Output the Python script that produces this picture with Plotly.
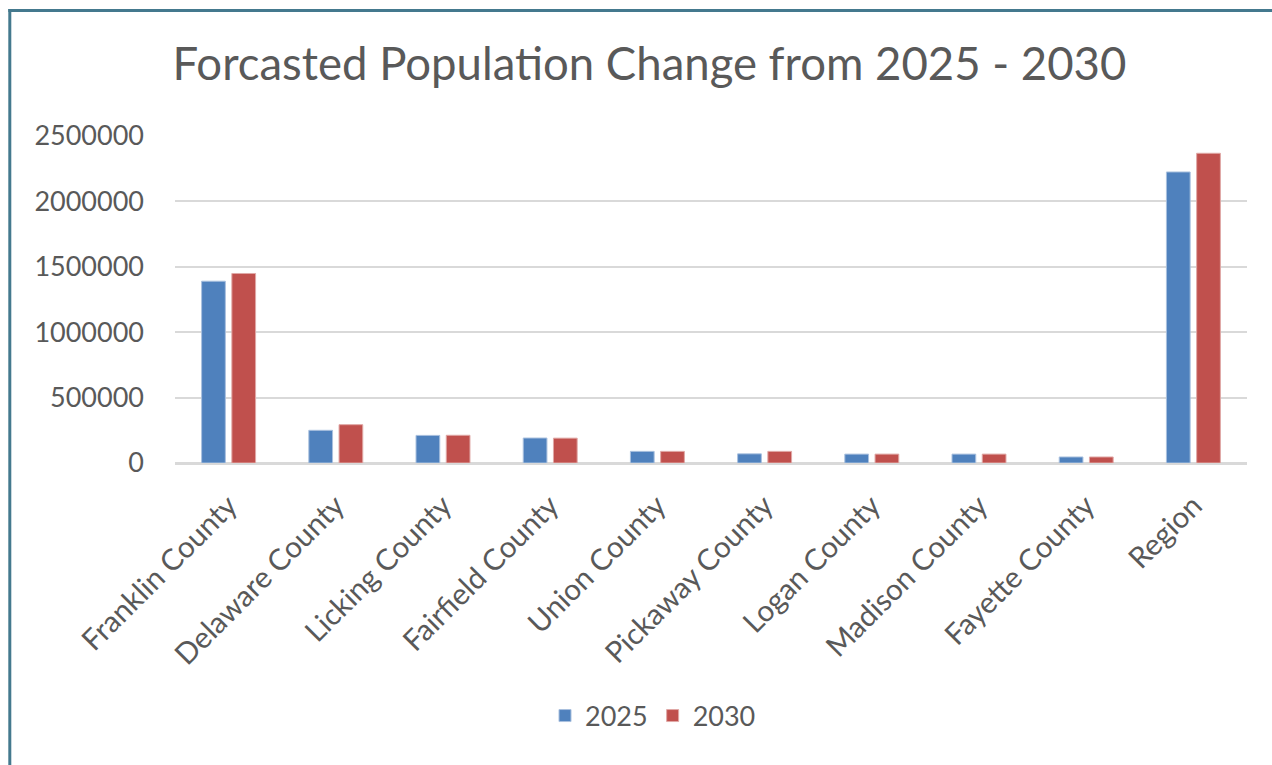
import plotly.graph_objects as go

categories = [
    "Franklin County", "Delaware County", "Licking County", "Fairfield County",
    "Union County", "Pickaway County", "Logan County", "Madison County",
    "Fayette County", "Region",
]
pop_2025 = [1390000, 250000, 211000, 191000, 89000, 70000, 68000, 68000, 46000, 2225000]
pop_2030 = [1449000, 293000, 212000, 190000, 89000, 89000, 68000, 68000, 46000, 2368000]
y_ticks = [0, 500000, 1000000, 1500000, 2000000, 2500000]

W, H = 1272, 765
ML, MR, MT, MB = 175, 25, 136, 302
FONT = "Lato"
TEXT = "#595959"

fig = go.Figure()
fig.add_trace(go.Bar(name="2025", x=categories, y=pop_2025,
                     marker=dict(color="#4F81BD", line=dict(color="#a9c0de", width=1))))
fig.add_trace(go.Bar(name="2030", x=categories, y=pop_2030,
                     marker=dict(color="#C0504D", line=dict(color="#e0a8a6", width=1))))

# frame lines along the left and top edges of the chart area
pw, ph = W - ML - MR, H - MT - MB
def px_x(p):
    return (p - ML) / pw
def px_y(p):
    return (H - MB - p) / ph

border = "#44798e"
fig.add_shape(type="line", xref="paper", yref="paper",
              x0=px_x(9.8), x1=px_x(9.8), y0=px_y(9), y1=px_y(H + 5),
              line=dict(color=border, width=3))
fig.add_shape(type="line", xref="paper", yref="paper",
              x0=px_x(8.3), x1=px_x(W + 5), y0=px_y(10.5), y1=px_y(10.5),
              line=dict(color=border, width=3))

fig.update_layout(
    width=W, height=H,
    margin=dict(l=ML, r=MR, t=MT, b=MB, pad=0),
    paper_bgcolor="white", plot_bgcolor="white",
    font=dict(family=FONT, color=TEXT, size=27),
    title=dict(text="Forcasted Population Change from 2025 - 2030",
               font=dict(family=FONT, size=45.5, color=TEXT),
               x=649.5 / W, xanchor="center", xref="container",
               y=1 - 64 / H, yanchor="middle", yref="container"),
    barmode="group", bargap=0.436, bargroupgap=0.215,
    showlegend=True,
    legend=dict(orientation="h", x=653 / W, xanchor="center", xref="container",
                y=1 - 716 / H, yanchor="middle", yref="container",
                font=dict(size=27, color=TEXT), itemwidth=30),
    xaxis=dict(tickangle=-45, showgrid=False, showline=True, linecolor="#d9d9d9",
               linewidth=1.5, ticks="", ticklabelstandoff=12,
               tickfont=dict(size=29.5, color=TEXT)),
    yaxis=dict(range=[0, 2500000], tickvals=y_ticks, ticktext=[str(v) for v in y_ticks],
               showgrid=True, gridcolor="#d9d9d9", gridwidth=1.5,
               zeroline=True, zerolinecolor="#d9d9d9", zerolinewidth=1.5,
               showline=False, ticks="", ticklabelstandoff=30,
               tickfont=dict(size=27, color=TEXT)),
)

fig.write_html("out.html")
